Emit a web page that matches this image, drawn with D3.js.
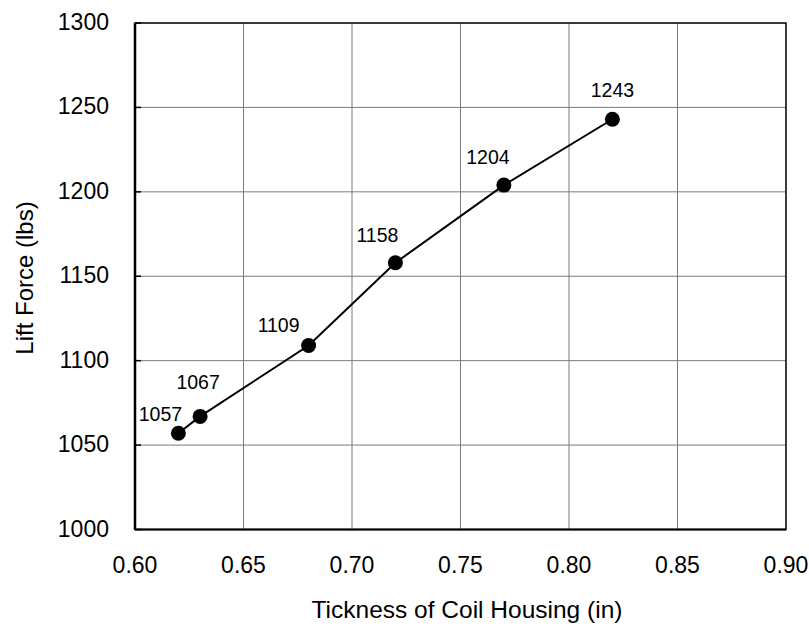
<!DOCTYPE html>
<html>
<head>
<meta charset="utf-8">
<script src="https://cdn.jsdelivr.net/npm/d3@7"></script>
<style>
  html, body { margin: 0; padding: 0; background: #fff; }
  svg { display: block; font-family: Arial, "Liberation Sans", sans-serif; }
</style>
</head>
<body>
<svg id="chart" width="809" height="631"></svg>
<script>
// chart data
const thickness = [0.62, 0.63, 0.68, 0.72, 0.77, 0.82];
const liftForce = [1057, 1067, 1109, 1158, 1204, 1243];
const xTicks = [0.60, 0.65, 0.70, 0.75, 0.80, 0.85, 0.90];
const yTicks = [1000, 1050, 1100, 1150, 1200, 1250, 1300];
const xTitle = "Tickness of Coil Housing (in)";
const yTitle = "Lift Force (lbs)";

// where each value label sits relative to its point (dx, dy to baseline)
const labelNudge = [[-18, -12], [-2, -27], [-30, -13], [-18, -21], [-16, -21], [0, -22]];

const svg = d3.select("#chart");
const plotL = 135, plotR = 786, plotT = 23, plotB = 529.5;

const x = d3.scaleLinear().domain([0.60, 0.90]).range([plotL, plotR]);
const y = d3.scaleLinear().domain([1000, 1300]).range([plotB, plotT]);

// grid lines
svg.append("g")
    .selectAll("line")
    .data(xTicks)
    .enter()
    .append("line")
    .attr("x1", d => x(d)).attr("x2", d => x(d))
    .attr("y1", plotT).attr("y2", plotB)
    .attr("stroke", "#7a7a7a")
    .attr("stroke-width", 1);

svg.append("g")
    .selectAll("line")
    .data(yTicks)
    .enter()
    .append("line")
    .attr("x1", plotL).attr("x2", plotR)
    .attr("y1", d => y(d)).attr("y2", d => y(d))
    .attr("stroke", "#7a7a7a")
    .attr("stroke-width", 1);

// plot border
svg.append("rect")
    .attr("x", plotL).attr("y", plotT)
    .attr("width", plotR - plotL).attr("height", plotB - plotT)
    .attr("fill", "none")
    .attr("stroke", "#111")
    .attr("stroke-width", 1.5);

// heavier left and bottom axis lines
svg.append("line")
    .attr("x1", plotL).attr("x2", plotL).attr("y1", plotT).attr("y2", plotB)
    .attr("stroke", "#000").attr("stroke-width", 2.5);
svg.append("line")
    .attr("x1", plotL).attr("x2", plotR).attr("y1", plotB).attr("y2", plotB)
    .attr("stroke", "#000").attr("stroke-width", 2);

// short inner ticks on the y axis
svg.append("g")
    .selectAll("line")
    .data(yTicks)
    .enter()
    .append("line")
    .attr("x1", plotL).attr("x2", plotL + 6)
    .attr("y1", d => y(d)).attr("y2", d => y(d))
    .attr("stroke", "#000").attr("stroke-width", 1.5);

// tick labels
svg.append("g")
    .selectAll("text")
    .data(yTicks)
    .enter()
    .append("text")
    .attr("x", 109)
    .attr("y", d => y(d) + 7)
    .attr("text-anchor", "end")
    .attr("font-size", 23)
    .attr("fill", "#000")
    .text(d => d);

svg.append("g")
    .selectAll("text")
    .data(xTicks)
    .enter()
    .append("text")
    .attr("x", d => x(d))
    .attr("y", 573)
    .attr("text-anchor", "middle")
    .attr("font-size", 23)
    .attr("fill", "#000")
    .text(d => d3.format(".2f")(d));

// axis titles
svg.append("text")
    .attr("x", 467)
    .attr("y", 618)
    .attr("text-anchor", "middle")
    .attr("font-size", 24.5)
    .attr("fill", "#000")
    .text(xTitle);

svg.append("text")
    .attr("transform", `translate(33,278) rotate(-90)`)
    .attr("text-anchor", "middle")
    .attr("font-size", 24)
    .attr("fill", "#000")
    .text(yTitle);

// series
const points = thickness.map((t, i) => ({ t: t, f: liftForce[i], i: i }));

svg.append("path")
    .datum(points)
    .attr("fill", "none")
    .attr("stroke", "#000")
    .attr("stroke-width", 2)
    .attr("d", d3.line().x(d => x(d.t)).y(d => y(d.f)));

svg.append("g")
    .selectAll("circle")
    .data(points)
    .enter()
    .append("circle")
    .attr("cx", d => x(d.t))
    .attr("cy", d => y(d.f))
    .attr("r", 7.5)
    .attr("fill", "#000");

svg.append("g")
    .selectAll("text")
    .data(points)
    .enter()
    .append("text")
    .attr("x", d => x(d.t) + labelNudge[d.i][0])
    .attr("y", d => y(d.f) + labelNudge[d.i][1])
    .attr("text-anchor", "middle")
    .attr("font-size", 19.5)
    .attr("fill", "#000")
    .text(d => d.f);
</script>
</body>
</html>
